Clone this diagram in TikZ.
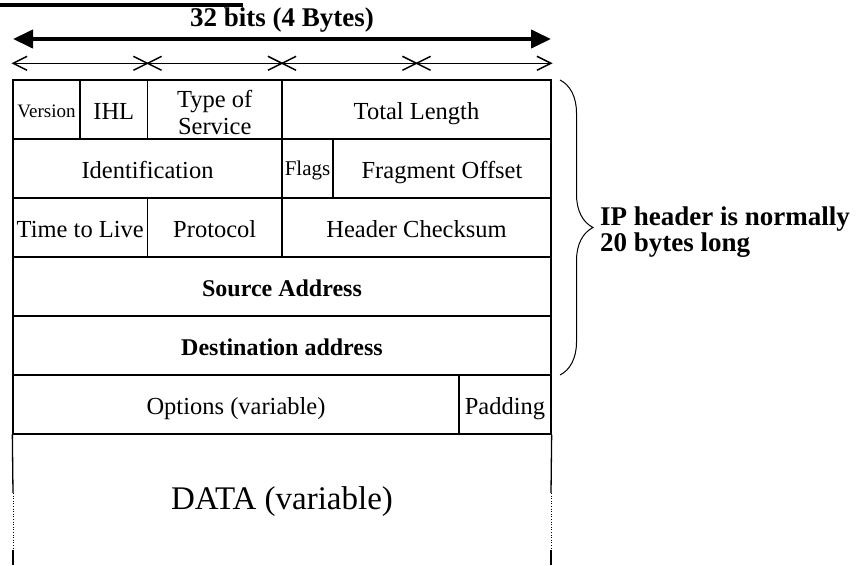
\documentclass[tikz,border=0pt]{standalone}
\usepackage{fontspec}
\setmainfont{Liberation Serif}
\usetikzlibrary{arrows.meta,decorations.pathreplacing}

\begin{document}
\begin{tikzpicture}[
        x=1pt, y=-1pt,
        cell/.style={
            draw,
            line width=1.3pt,
            inner sep=0pt,
            minimum height=59pt,
            align=center,
            text height=21pt,
            text depth=1pt,
            font=\fontsize{24.5}{27}\selectfont
        },
        small cell/.style={
            cell,
            text height=16pt,
            text depth=2pt
        },
        bold cell/.style={
            cell,
            font=\fontsize{24}{26}\selectfont\bfseries
        },
        byte arrow/.style={
            line width=1.5pt,
            shorten <=-1.6pt,
            shorten >=-1.6pt,
            {Straight Barb[length=14pt,width=14pt]}-{Straight Barb[length=14pt,width=14pt]}
        },
        word arrow/.style={
            line width=4pt,
            {Triangle[length=20pt,width=18pt]}-{Triangle[length=20pt,width=18pt]}
        },
        side/.style={line width=1.3pt}
    ]
    \useasboundingbox (0,0) rectangle (866,565);

    % width marks above the header
    \draw[line width=4pt] (0,5.3) -- (243,5.3);
    \node[font=\fontsize{27}{29}\selectfont\bfseries] (wordlabel) at (282,20) {32 bits (4 Bytes)};
    \coordinate (wl) at (13,39);
    \coordinate (wr) at (551,39);
    \draw[word arrow] (wl) -- (wr);

    \coordinate (b0) at (13,63.3);
    \coordinate (b1) at (147.5,63.3);
    \coordinate (b2) at (282,63.3);
    \coordinate (b3) at (416.5,63.3);
    \coordinate (b4) at (551,63.3);
    \draw[byte arrow] (b0) -- (b1);
    \draw[byte arrow] (b1) -- (b2);
    \draw[byte arrow] (b2) -- (b3);
    \draw[byte arrow] (b3) -- (b4);

    % header rows
    \node[small cell, minimum width=67pt, text depth=1pt, font=\fontsize{19}{21}\selectfont] (version) at (46.5,109.5) {Version};
    \node[cell, minimum width=67.5pt] (ihl) at (113.75,109.5) {IHL};
    \node[cell, text height={}, text depth={}, minimum width=134.5pt] (tos) at (214.75,109.5) {\rule{0pt}{24pt}Type of\\Service};
    \node[cell, minimum width=269pt] (totlen) at (416.5,109.5) {Total Length};

    \node[cell, minimum width=269pt] (ident) at (147.5,168.5) {Identification};
    \node[small cell, minimum width=51pt, font=\fontsize{21}{23}\selectfont] (flags) at (307.5,168.5) {Flags};
    \node[cell, minimum width=218pt] (fragoff) at (442,168.5) {Fragment Offset};

    \node[cell, minimum width=134.5pt] (ttl) at (80.25,227.5) {Time to Live};
    \node[cell, minimum width=134.5pt] (proto) at (214.75,227.5) {Protocol};
    \node[cell, minimum width=269pt] (chksum) at (416.5,227.5) {Header Checksum};

    \node[bold cell, minimum width=538pt] (srcaddr) at (282,286.5) {Source Address};
    \node[bold cell, minimum width=538pt] (dstaddr) at (282,345.5) {Destination address};

    \node[cell, minimum width=446pt] (options) at (236,404.5) {Options (variable)};
    \node[cell, minimum width=92pt] (padding) at (505,404.5) {Padding};

    % data part, open at the bottom
    \node[font=\fontsize{33}{35}\selectfont] (data) at (282,502) {DATA (variable)};
    \draw[side] (options.south west) -- (13,493);
    \draw[line width=0.6pt, dotted] (13,493) -- (13,550);
    \draw[side] (13,550) -- (13,565);
    \draw[side] (padding.south east) -- (551,493);
    \draw[line width=0.6pt, dotted] (551,493) -- (551,550);
    \draw[side] (551,550) -- (551,565);

    % brace over the fixed header
    \coordinate (bt) at (560,80);
    \coordinate (bb) at (560,375);
    \draw[line width=1pt, decorate, decoration={brace, amplitude=33pt}] (bt) -- (bb);
    \node[font=\fontsize{27}{26.7}\selectfont\bfseries, align=left, anchor=west, inner sep=0pt] (hdrnote) at (600,232) {IP header is normally\\20 bytes long};
\end{tikzpicture}
\end{document}
